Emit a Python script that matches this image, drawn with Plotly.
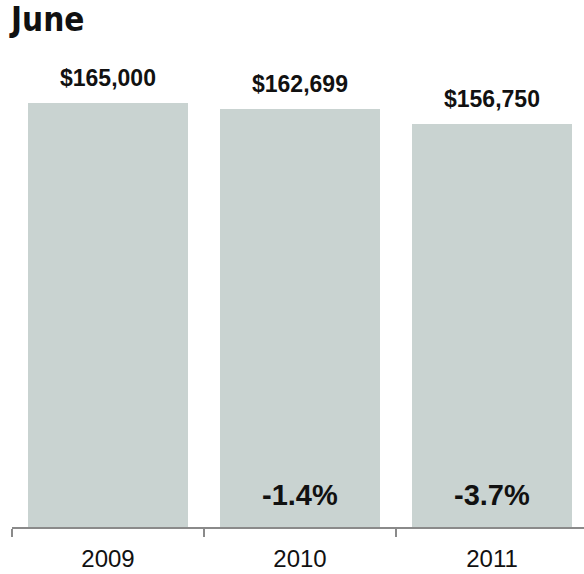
import plotly.graph_objects as go

# June median values by year
years = ["2009", "2010", "2011"]
values = [165000, 162699, 156750]
value_labels = ["$165,000", "$162,699", "$156,750"]
change_labels = ["", "-1.4%", "-3.7%"]

BAR_COLOR = "#c9d3d1"
AXIS_COLOR = "#8a8a8a"
TEXT_COLOR = "#111111"
FONT = "Liberation Sans, Arial, sans-serif"

fig = go.Figure()
fig.add_trace(go.Bar(
    x=years,
    y=values,
    width=0.833,
    marker=dict(color=BAR_COLOR, line=dict(width=0)),
    hoverinfo="skip",
))

# dollar labels above each bar (category positions are serial indices)
for i, (v, lab) in enumerate(zip(values, value_labels)):
    fig.add_annotation(
        x=i, y=v, xref="x", yref="y", text=f"<b>{lab}</b>", showarrow=False,
        xanchor="center", yanchor="bottom", yshift=10,
        font=dict(family=FONT, size=23, color=TEXT_COLOR),
    )

# year-over-year change inside the bar foot
for i, lab in enumerate(change_labels):
    if lab:
        fig.add_annotation(
            x=i, y=0, xref="x", yref="y", text=f"<b>{lab}</b>", showarrow=False,
            xanchor="center", yanchor="bottom", yshift=14,
            font=dict(family=FONT, size=29, color=TEXT_COLOR),
        )

plot_w = 584 - 12
fig.update_layout(
    width=584, height=574,
    margin=dict(l=12, r=0, t=60, b=47),
    paper_bgcolor="white", plot_bgcolor="white",
    showlegend=False,
    title=dict(
        text="<b>June</b>", xref="container", yref="container",
        x=11 / 584, xanchor="left", y=1 - 8 / 574, yanchor="top",
        font=dict(family="DejaVu Sans Condensed, Liberation Sans Narrow, Liberation Sans, sans-serif",
                  size=33, color=TEXT_COLOR),
    ),
    xaxis=dict(
        type="category",
        range=[-0.5, -0.5 + plot_w / 192],
        showline=True, linecolor=AXIS_COLOR, linewidth=2,
        ticks="outside", tickson="boundaries", ticklen=8, tickwidth=2, tickcolor=AXIS_COLOR,
        showgrid=False, zeroline=False,
        tickfont=dict(family=FONT, size=24, color=TEXT_COLOR),
        ticklabelstandoff=9,
        fixedrange=True,
    ),
    yaxis=dict(
        range=[0, 467 / (424 / 165000)],
        showticklabels=False, showline=False, ticks="",
        showgrid=False, zeroline=False, fixedrange=True,
    ),
    bargap=0,
)

fig.write_html("out.html")
